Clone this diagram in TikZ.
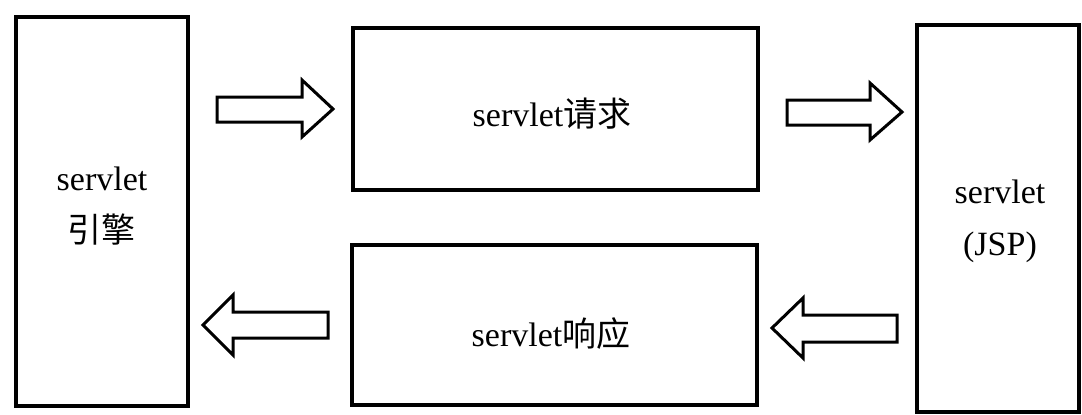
\documentclass[tikz,border=0pt]{standalone}
\usepackage{fontspec}
\setmainfont{Liberation Serif}
\newfontfamily\cjk{Noto Sans CJK SC}
\begin{document}
\begin{tikzpicture}[x=0.5pt,y=-0.5pt,
  box/.style={draw=black,line width=2pt,rectangle,inner sep=0pt},
  lbl/.style={font=\fontsize{17}{26}\selectfont,align=center,inner sep=0pt},
  blockarrow/.style={draw=black,line width=1.5pt,line join=miter,fill=white}]
\useasboundingbox (0,0) rectangle (1082,414);
% boxes
\node[box,minimum width=86pt,minimum height=194.5pt] (engine) at (102,211.5) {};
\node[box,minimum width=202.5pt,minimum height=81pt] (req) at (555.5,109) {};
\node[box,minimum width=202.5pt,minimum height=80pt] (resp) at (554.5,325) {};
\node[box,minimum width=81pt,minimum height=193.5pt] (jsp) at (998,218.5) {};
% labels
\node[lbl] (engineText) at (102,206) {servlet\\{\cjk 引擎}};
\node[lbl] (reqText) at (552,114) {servlet{\cjk 请求}};
\node[lbl] (respText) at (551,334) {servlet{\cjk 响应}};
\node[lbl] (jspText) at (1000,221) {servlet\\(JSP)};
% block arrows
\draw[blockarrow] (217,97) -- (302,97) -- (302,80) -- (333,109) -- (302,137) -- (302,122) -- (217,122) -- cycle;
\draw[blockarrow] (787,100) -- (870,100) -- (870,83) -- (902,112) -- (870,140) -- (870,125) -- (787,125) -- cycle;
\draw[blockarrow] (328,312) -- (233,312) -- (233,295) -- (203,325) -- (233,355) -- (233,338) -- (328,338) -- cycle;
\draw[blockarrow] (897,315) -- (803,315) -- (803,298) -- (772,328) -- (803,358) -- (803,342) -- (897,342) -- cycle;
\end{tikzpicture}
\end{document}
